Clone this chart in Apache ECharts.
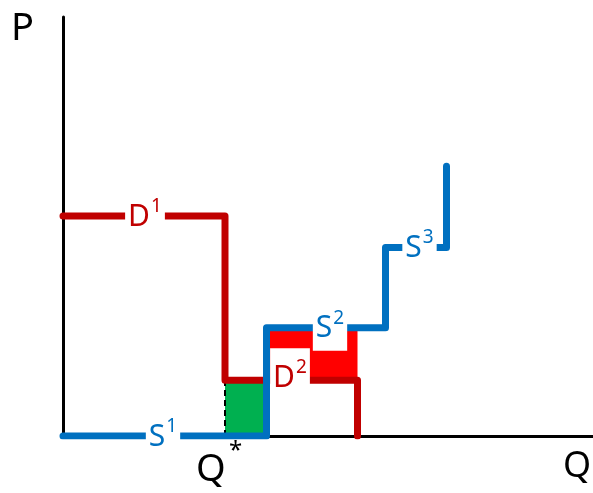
<!DOCTYPE html>
<html>
<head>
<meta charset="utf-8">
<script src="https://cdn.jsdelivr.net/npm/echarts@6/dist/echarts.min.js"></script>
<style>
  html, body { margin: 0; padding: 0; background: #fff; }
  #main { width: 593px; height: 493px; }
</style>
</head>
<body>
<div id="main"></div>
<script>
// step demand / supply curves (Q, P)
var demandQ = [0, 32.4, 32.4, 58.9, 58.9];
var demandP = [44.1, 44.1, 11.2, 11.2, 0];
var supplyQ = [0, 40.7, 40.7, 64.5, 64.5, 76.7, 76.7];
var supplyP = [0, 0, 21.7, 21.7, 37.8, 37.8, 54.1];
var qStar = 32.4;

// curve labels: name, superscript, Q, P
var curveNames = ['S', 'D', 'S', 'D', 'S'];
var curveSups = ['1', '1', '2', '2', '3'];
var labelQ = [20, 16.4, 53.4, 45.4, 71.3];
var labelP = [0, 44.1, 21.7, 11.8, 37.8];

var BLUE = '#0070C0', DARK = '#C00000', RED = '#FF0000', GREEN = '#00B050';
var FONT = 'Noto Sans';
// white box around each label [top, right, bottom, left] and shift
var labelPad = [[0, 3, 0, 3], [0, 3, 0, 3], [0, 3, 12, 3], [10, 3, 6, 3], [0, 3, 0, 3]];
var labelShift = [[0, -4], [0, -4], [0, 2], [0, -6], [0, -4]];

function pairs(xs, ys) {
  return xs.map(function (x, i) { return [x, ys[i]]; });
}

var labelData = curveNames.map(function (n, i) {
  var c = n == 'S' ? BLUE : DARK;
  return {
    value: [labelQ[i], labelP[i]],
    label: {
      formatter: '{m|' + n + '}{s|' + curveSups[i] + '}',
      color: c,
      padding: labelPad[i],
      offset: labelShift[i],
      rich: {
        m: { fontSize: 30, fontFamily: FONT, color: c, lineHeight: 30, padding: [10, 0, 0, 0] },
        s: { fontSize: 19, fontFamily: FONT, color: c, verticalAlign: 'top', lineHeight: 19, padding: [0, 0, 0, 1] }
      }
    }
  };
});

var myChart = echarts.init(document.getElementById('main'));
var option = {
  animation: false,
  grid: { left: 63, right: 0, top: 17, bottom: 57 },
  xAxis: {
    type: 'value', min: 0, max: 106,
    axisLine: { lineStyle: { color: '#000', width: 3 } },
    axisTick: { show: false }, axisLabel: { show: false }, splitLine: { show: false }
  },
  yAxis: {
    type: 'value', min: 0, max: 84,
    axisLine: { lineStyle: { color: '#000', width: 3 } },
    axisTick: { show: false }, axisLabel: { show: false }, splitLine: { show: false }
  },
  graphic: [
    { type: 'text', x: 11, y: 29, style: { text: 'P', fontSize: 38, fontFamily: FONT, fill: '#000', verticalAlign: 'middle' } },
    { type: 'text', x: 563, y: 467, style: { text: 'Q', fontSize: 36, fontFamily: FONT, fill: '#000', verticalAlign: 'middle' } },
    { type: 'text', x: 196, y: 470, style: { text: 'Q', fontSize: 38, fontFamily: FONT, fill: '#000', verticalAlign: 'middle' } },
    { type: 'text', x: 229, y: 451, style: { text: '*', fontSize: 24, fontFamily: FONT, fill: '#000', verticalAlign: 'middle' } }
  ],
  series: [
    {
      // surplus areas
      type: 'line', data: [], z: 1, silent: true,
      markArea: {
        silent: true,
        data: [
          [{ xAxis: qStar, yAxis: 0, itemStyle: { color: GREEN, opacity: 1 } }, { xAxis: supplyQ[1], yAxis: demandP[2] }],
          [{ xAxis: supplyQ[1], yAxis: demandP[2], itemStyle: { color: RED, opacity: 1 } }, { xAxis: demandQ[3], yAxis: supplyP[2] }]
        ]
      }
    },
    {
      type: 'line', z: 2, symbol: 'none', silent: true,
      data: [[qStar, 0], [qStar, demandP[2]]],
      lineStyle: { color: '#000', width: 2, type: [6, 4] }
    },
    {
      type: 'line', z: 3, symbol: 'none', silent: true,
      data: pairs(demandQ, demandP),
      lineStyle: { color: DARK, width: 7, cap: 'round', join: 'round' }
    },
    {
      type: 'line', z: 4, symbol: 'none', silent: true,
      data: pairs(supplyQ, supplyP),
      lineStyle: { color: BLUE, width: 7, cap: 'round', join: 'round' }
    },
    {
      type: 'scatter', z: 5, symbolSize: 0, silent: true,
      itemStyle: { opacity: 1 },
      data: labelData,
      label: { show: true, position: 'inside', backgroundColor: '#fff', opacity: 1 }
    }
  ]
};
myChart.setOption(option);
</script>
</body>
</html>
